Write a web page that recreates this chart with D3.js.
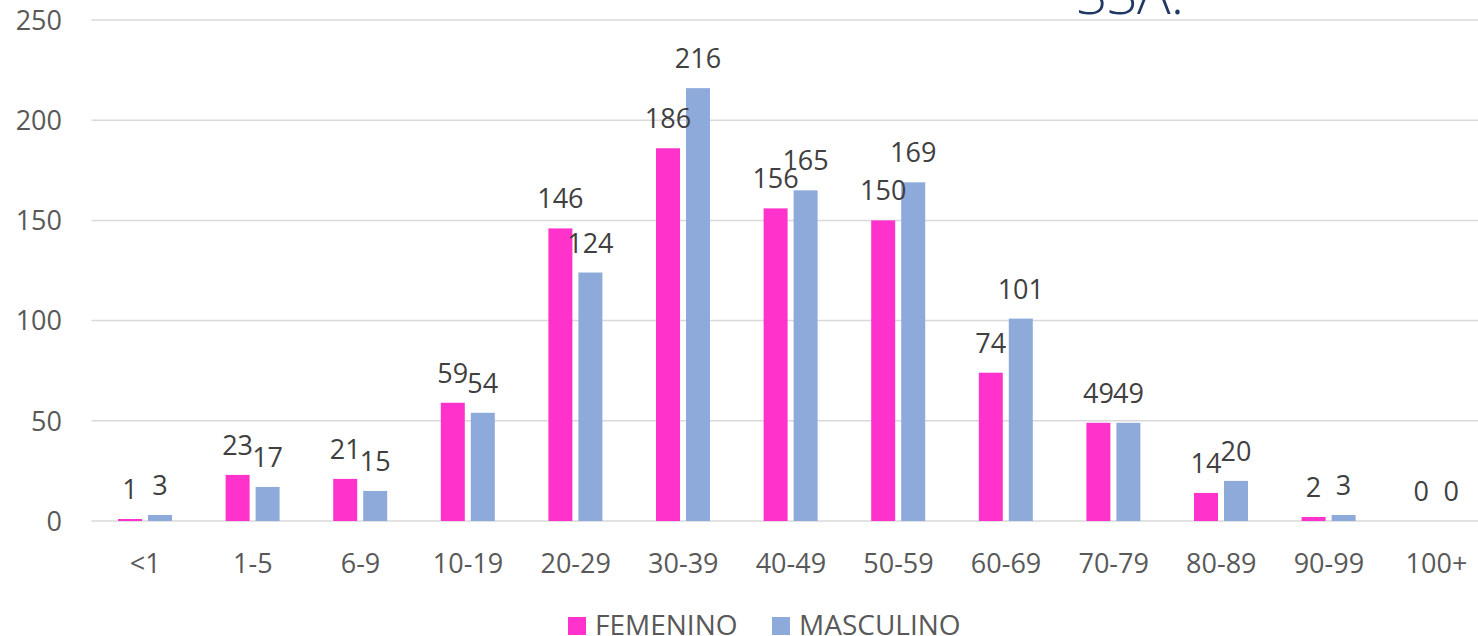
<!DOCTYPE html>
<html>
<head>
<meta charset="utf-8">
<script src="https://cdn.jsdelivr.net/npm/d3@7"></script>
<style>
    body { margin: 0; background: #ffffff; overflow: hidden; }
    svg { display: block; font-family: "Open Sans", "Noto Sans", sans-serif; }
</style>
</head>
<body>
<svg id="chart" width="1478" height="636"></svg>
<script>
var categories = ["<1", "1-5", "6-9", "10-19", "20-29", "30-39", "40-49", "50-59", "60-69", "70-79", "80-89", "90-99", "100+"];
var femenino = [1, 23, 21, 59, 146, 186, 156, 150, 74, 49, 14, 2, 0];
var masculino = [3, 17, 15, 54, 124, 216, 165, 169, 101, 49, 20, 3, 0];
var yTicks = [0, 50, 100, 150, 200, 250];
var seriesNames = ["FEMENINO", "MASCULINO"];
var seriesColors = ["#ff33cc", "#8eaadb"];

var svg = d3.select("#chart");

// plot area runs a little past the right edge, like the cropped original
var x = d3.scaleBand().domain(categories).range([91.5, 1490.3]).padding(0);
var inner = d3.scaleBand().domain(seriesNames).range([26.5, 80.5]).paddingInner(0.2);
var y = d3.scaleLinear().domain([0, 250]).range([521, 20]);

// gridlines
svg.append("g")
    .attr("class", "grid")
    .selectAll("line")
    .data(yTicks)
    .enter().append("line")
    .attr("x1", 91.5)
    .attr("x2", 1478)
    .attr("y1", function(d) { return y(d); })
    .attr("y2", function(d) { return y(d); })
    .style("stroke", "#d9d9d9")
    .style("stroke-width", "1.5px");

// y tick labels
svg.append("g")
    .selectAll("text")
    .data(yTicks)
    .enter().append("text")
    .attr("x", 62)
    .attr("y", function(d) { return y(d); })
    .attr("dy", "0.36em")
    .attr("text-anchor", "end")
    .style("font-size", "27px")
    .style("fill", "#595959")
    .text(function(d) { return d; });

// x category labels
svg.append("g")
    .selectAll("text")
    .data(categories)
    .enter().append("text")
    .attr("x", function(d) { return x(d) + x.bandwidth() / 2; })
    .attr("y", 573)
    .attr("text-anchor", "middle")
    .style("font-size", "27px")
    .style("fill", "#595959")
    .text(function(d) { return d; });

var rows = categories.map(function(c, i) {
    return { cat: c, values: [femenino[i], masculino[i]] };
});

var groups = svg.append("g")
    .selectAll("g")
    .data(rows)
    .enter().append("g")
    .attr("transform", function(d) { return "translate(" + x(d.cat) + ",0)"; });

groups.selectAll("rect")
    .data(function(d) {
        return seriesNames.map(function(s, j) { return { name: s, value: d.values[j], color: seriesColors[j] }; });
    })
    .enter().append("rect")
    .attr("x", function(d) { return inner(d.name); })
    .attr("width", inner.bandwidth())
    .attr("y", function(d) { return y(d.value); })
    .attr("height", function(d) { return y(0) - y(d.value); })
    .style("fill", function(d) { return d.color; });

// data labels
groups.selectAll("text")
    .data(function(d) {
        return seriesNames.map(function(s, j) { return { name: s, value: d.values[j] }; });
    })
    .enter().append("text")
    .attr("x", function(d) { return inner(d.name) + inner.bandwidth() / 2; })
    .attr("y", function(d) { return y(d.value) - 20; })
    .attr("text-anchor", "middle")
    .style("font-size", "27px")
    .style("fill", "#404040")
    .text(function(d) { return d.value; });

// legend
var legendX = [568, 772];
var legend = svg.append("g")
    .selectAll("g")
    .data(seriesNames)
    .enter().append("g")
    .attr("transform", function(d, i) { return "translate(" + legendX[i] + ",617)"; });

legend.append("rect")
    .attr("width", 18)
    .attr("height", 18)
    .style("fill", function(d, i) { return seriesColors[i]; });

legend.append("text")
    .attr("x", 27)
    .attr("y", 18)
    .style("font-size", "28px")
    .style("fill", "#595959")
    .text(function(d) { return d; });

// title fragment, cut off at the top
svg.append("text")
    .attr("x", 1076)
    .attr("y", 14)
    .style("font-size", "56px")
    .style("font-weight", "300")
    .style("fill", "#203864")
    .text("SSA.");
</script>
</body>
</html>
